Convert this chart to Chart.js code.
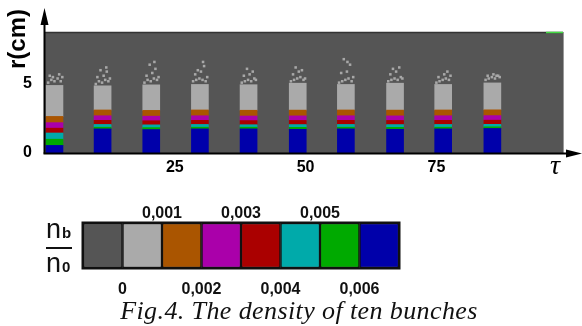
<!DOCTYPE html>
<html>
<head>
<meta charset="utf-8">
<script src="https://cdn.jsdelivr.net/npm/chart.js@4/dist/chart.umd.min.js"></script>
<style>
  html,body{margin:0;padding:0;background:#fff;width:582px;height:326px;overflow:hidden;}
  #main{position:absolute;left:0;top:0;}
  #bar{position:absolute;left:0;top:190px;}
  #cap{position:absolute;left:8px;top:298px;width:582px;text-align:center;line-height:26px;
       font-family:"Liberation Serif","DejaVu Serif",serif;font-style:italic;font-size:26px;
       letter-spacing:0.4px;color:#111;white-space:nowrap;}
</style>
</head>
<body>
<canvas id="main" width="582" height="190"></canvas>
<canvas id="bar" width="582" height="110"></canvas>
<div id="cap">Fig.4. The density of ten bunches</div>
<script>
// ---- data ----
const bunchX   = [2.0, 11.2, 20.5, 29.8, 39.1, 48.5, 57.7, 67.1, 76.3, 85.7]; // tau
// layer thicknesses (cm), bottom to top
const blueL    = [0.55, 1.75, 1.70, 1.75, 1.75, 1.72, 1.75, 1.72, 1.75, 1.78];
const greenL   = [0.45, 0.12, 0.14, 0.12, 0.12, 0.14, 0.12, 0.14, 0.12, 0.12];
const cyanL    = [0.45, 0.20, 0.20, 0.20, 0.18, 0.20, 0.20, 0.20, 0.20, 0.18];
const redL     = [0.35, 0.30, 0.30, 0.30, 0.30, 0.30, 0.30, 0.30, 0.30, 0.30];
const magentaL = [0.40, 0.33, 0.33, 0.33, 0.33, 0.33, 0.33, 0.33, 0.33, 0.33];
const orangeL  = [0.45, 0.42, 0.42, 0.42, 0.42, 0.42, 0.42, 0.42, 0.42, 0.42];
const grayL    = [2.25, 1.75, 1.85, 1.85, 1.85, 1.95, 1.85, 1.95, 1.85, 1.95];
// scattered low-density cells above the bunches (tau, r)
const speckX = [0.8,1.4,2.0,2.6,3.2,3.5,1.1,2.9,1.7,
                9.9,10.5,11.1,11.7,12.3,12.6,10.2,11.4,12.0,10.8,11.9,
                19.2,19.8,20.4,21.0,21.6,21.9,19.6,20.7,21.3,20.2,21.1,
                28.5,29.1,29.7,30.3,30.9,31.2,28.9,30.0,30.6,29.4,30.4,
                37.8,38.4,39.0,39.6,40.2,40.5,38.2,39.3,39.9,38.8,
                47.2,47.8,48.4,49.0,49.6,49.9,47.6,48.7,49.3,48.1,
                56.4,57.0,57.6,58.2,58.8,59.1,56.8,57.9,58.5,57.3,58.0,
                65.8,66.4,67.0,67.6,68.2,68.5,66.2,67.3,67.9,66.7,
                75.0,75.6,76.2,76.8,77.4,77.7,75.4,76.5,77.1,
                84.4,85.0,85.6,86.2,86.8,87.1,84.8,85.9,86.5];
const speckY = [5.1,5.3,5.2,5.4,5.2,5.5,5.6,5.7,5.5,
                5.0,5.2,5.1,5.3,5.2,5.4,5.5,5.6,5.9,6.0,6.2,
                5.1,5.3,5.2,5.4,5.3,5.5,5.6,5.8,6.1,6.4,6.6,
                5.2,5.3,5.4,5.3,5.2,5.5,5.7,5.9,6.3,6.0,6.6,
                5.1,5.2,5.3,5.2,5.4,5.3,5.6,5.7,5.9,6.1,
                5.2,5.3,5.4,5.5,5.3,5.4,5.7,5.9,6.0,6.2,
                5.1,5.2,5.3,5.4,5.2,5.5,5.8,5.9,6.4,6.8,6.6,
                5.2,5.3,5.4,5.3,5.5,5.4,5.7,5.9,6.2,6.1,
                5.1,5.2,5.3,5.4,5.3,5.6,5.5,5.7,5.9,
                5.3,5.4,5.5,5.4,5.6,5.5,5.6,5.7,5.6];
const yTicks = [0, 5];
const xTicks = [25, 50, 75];
// colour bar
const levelColors = ['#555555','#aaaaaa','#aa5500','#aa00aa','#aa0000','#00aaaa','#00aa00','#0000aa'];
const bottomTickPos = [1, 3, 5, 7];
const bottomTickLab = ['0', '0,002', '0,004', '0,006'];
const topTickPos = [2, 4, 6];
const topTickLab = ['0,001', '0,003', '0,005'];

// ---- main chart ----
const layers = [
  {d: blueL, c:'#0000aa'}, {d: greenL, c:'#00aa00'}, {d: cyanL, c:'#00aaaa'},
  {d: redL, c:'#aa0000'}, {d: magentaL, c:'#aa00aa'}, {d: orangeL, c:'#aa5500'},
  {d: grayL, c:'#aaaaaa'}
];
const datasets = layers.map(l => ({
  type:'bar',
  data: bunchX.map((x,i)=>({x:x, y:l.d[i]})),
  backgroundColor: l.c, borderWidth:0, barThickness:17, yAxisID:'y'
}));
datasets.push({
  type:'scatter', yAxisID:'ys',
  data: speckX.map((x,i)=>({x:x, y:speckY[i]})),
  pointStyle:'rect', pointRadius:1.8, backgroundColor:'#a8a8a8', borderWidth:0
});

const tickFont = {family:'"Liberation Sans", Arial, sans-serif', size:16, weight:'bold'};

const mainDeco = {
  id:'mainDeco',
  beforeDatasetsDraw(chart){
    const {ctx, chartArea:a} = chart;
    ctx.save();
    ctx.fillStyle = '#555555';
    ctx.fillRect(a.left, a.top, a.right-a.left, a.bottom-a.top);
    ctx.restore();
  },
  afterDraw(chart){
    const {ctx, chartArea:a} = chart;
    ctx.save();
    ctx.strokeStyle = '#333'; ctx.lineWidth = 1.5;
    ctx.beginPath(); ctx.moveTo(a.left, a.top+0.5); ctx.lineTo(a.right, a.top+0.5); ctx.stroke();
    ctx.strokeStyle = '#44dd44';
    ctx.beginPath(); ctx.moveTo(a.right-17, a.top+0.5); ctx.lineTo(a.right, a.top+0.5); ctx.stroke();
    ctx.strokeStyle = '#9a9a9a'; ctx.lineWidth = 1;
    ctx.beginPath(); ctx.moveTo(a.right+0.5, a.top); ctx.lineTo(a.right+0.5, a.bottom); ctx.stroke();
    ctx.strokeStyle = '#000'; ctx.fillStyle = '#000'; ctx.lineWidth = 2;
    const x0 = a.left+0.5, y0 = a.bottom+0.5;
    ctx.beginPath(); ctx.moveTo(x0, y0); ctx.lineTo(x0, 20); ctx.stroke();
    ctx.beginPath(); ctx.moveTo(x0, 8); ctx.lineTo(x0-4, 25); ctx.lineTo(x0+4, 25); ctx.closePath(); ctx.fill();
    ctx.beginPath(); ctx.moveTo(x0-1, y0); ctx.lineTo(570, y0); ctx.stroke();
    ctx.beginPath(); ctx.moveTo(582, y0); ctx.lineTo(566, y0-4); ctx.lineTo(566, y0+4); ctx.closePath(); ctx.fill();
    ctx.font = 'bold 24px "Liberation Sans", Arial, sans-serif';
    ctx.textAlign = 'center'; ctx.textBaseline = 'middle';
    ctx.save(); ctx.translate(18, 39); ctx.rotate(-Math.PI/2); ctx.fillText('r(cm)', 0, 0); ctx.restore();
    ctx.font = 'italic 28px "Liberation Serif", "DejaVu Serif", serif';
    ctx.fillText('τ', 555, 167);
    ctx.restore();
  }
};

new Chart(document.getElementById('main'), {
  data: {datasets},
  options: {
    responsive:false, animation:false, devicePixelRatio:1,
    layout:{padding:{top:32, right:19, left:0, bottom:0}},
    plugins:{legend:{display:false}, tooltip:{enabled:false}},
    scales:{
      x:{type:'linear', min:0, max:99.2, stacked:true, offset:false,
         grid:{display:false}, border:{display:false},
         afterBuildTicks:s=>{s.ticks = xTicks.map(v=>({value:v}));},
         afterFit:s=>{s.height = 37;},
         ticks:{font:tickFont, color:'#000', padding:-3, maxRotation:0, autoSkip:false}},
      y:{type:'linear', min:0, max:8.77, stacked:true,
         grid:{display:false}, border:{display:false},
         afterBuildTicks:s=>{s.ticks = yTicks.map(v=>({value:v}));},
         afterFit:s=>{s.width = 44;},
         ticks:{font:tickFont, color:'#000', padding:4}},
      ys:{type:'linear', min:0, max:8.77, display:false}
    }
  },
  plugins:[mainDeco]
});

// ---- colour bar ----
const barDeco = {
  id:'barDeco',
  afterDraw(chart){
    const {ctx, chartArea:a} = chart;
    ctx.save();
    ctx.strokeStyle = '#111'; ctx.lineWidth = 2;
    ctx.strokeRect(a.left-0.5, a.top-0.5, a.right-a.left+1, a.bottom-a.top+1);
    ctx.fillStyle = '#111';
    ctx.textAlign = 'left'; ctx.textBaseline = 'alphabetic';
    ctx.font = '27px "Liberation Sans", Arial, sans-serif';
    ctx.fillText('n', 46, 48);
    ctx.fillText('n', 46, 82);
    ctx.font = 'bold 15px "Liberation Sans", Arial, sans-serif';
    ctx.fillText('b', 62, 48);
    ctx.fillText('0', 62, 82);
    ctx.lineWidth = 2;
    ctx.beginPath(); ctx.moveTo(46, 58); ctx.lineTo(72, 58); ctx.stroke();
    ctx.restore();
  }
};

new Chart(document.getElementById('bar'), {
  type:'bar',
  data:{
    labels:[''],
    datasets: levelColors.map(c=>({data:[1], backgroundColor:c, borderColor:'#111',
      borderWidth:1.5, borderSkipped:false, barPercentage:1, categoryPercentage:1, xAxisID:'xb'}))
  },
  options:{
    indexAxis:'y', responsive:false, animation:false, devicePixelRatio:1,
    layout:{padding:{left:83, right:183, top:0, bottom:0}},
    plugins:{legend:{display:false}, tooltip:{enabled:false}},
    scales:{
      y:{stacked:true, display:false},
      xb:{type:'linear', position:'bottom', min:0, max:8, stacked:true,
          grid:{display:false}, border:{display:false},
          afterBuildTicks:s=>{s.ticks = bottomTickPos.map(v=>({value:v}));},
          afterFit:s=>{s.height = 32;},
          ticks:{font:tickFont, color:'#111', padding:4, maxRotation:0, autoSkip:false,
                 callback:(v)=>bottomTickLab[bottomTickPos.indexOf(v)]}},
      xt:{type:'linear', position:'top', min:0, max:8,
          grid:{display:false}, border:{display:false},
          afterBuildTicks:s=>{s.ticks = topTickPos.map(v=>({value:v}));},
          afterFit:s=>{s.height = 33;},
          ticks:{font:tickFont, color:'#111', padding:-8, maxRotation:0, autoSkip:false,
                 callback:(v)=>topTickLab[topTickPos.indexOf(v)]}}
    }
  },
  plugins:[barDeco]
});
</script>
</body>
</html>
